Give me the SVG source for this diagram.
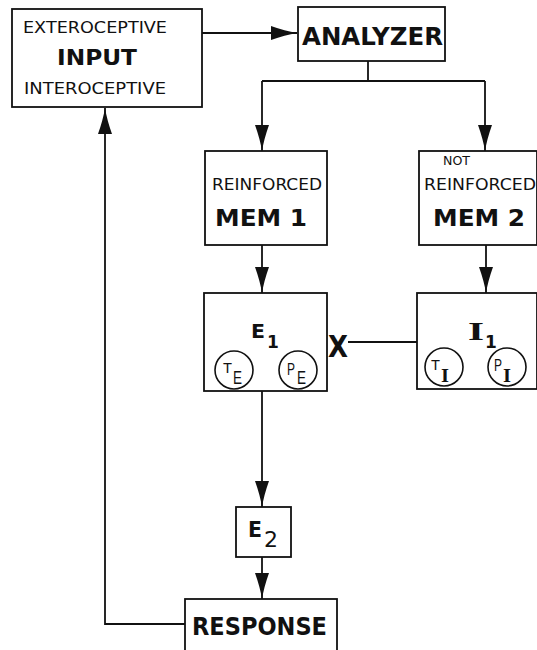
<svg xmlns="http://www.w3.org/2000/svg" width="537" height="650" viewBox="0 0 537 650">
<style>
.box{fill:#fff;stroke:#111;stroke-width:1.8}
.ln{fill:none;stroke:#111;stroke-width:1.8}
.t{font-family:"DejaVu Sans","Liberation Sans",Arial,sans-serif;fill:#111}
.b{font-weight:bold}
.s{font-family:"Liberation Serif","Times New Roman",serif;font-weight:bold;fill:#111}
.c{fill:none;stroke:#111;stroke-width:1.6}
.sm{font-family:"Liberation Sans",Arial,sans-serif;fill:#111}
</style>
<defs>
<marker id="ah" markerUnits="userSpaceOnUse" markerWidth="27" markerHeight="15" refX="26" refY="7" orient="auto" viewBox="0 0 27 15">
<path d="M0,0 Q14,5 26,7 Q14,9 0,14 Z" fill="#111"/>
</marker>
</defs>
<rect width="537" height="650" fill="#fff"/>
<g id="connectors">
<path class="ln" d="M202,33 H297" marker-end="url(#ah)"/>
<path class="ln" d="M368,61 V81"/>
<path class="ln" d="M262,81 H485"/>
<path class="ln" d="M262,81 V151" marker-end="url(#ah)"/>
<path class="ln" d="M485,81 V151" marker-end="url(#ah)"/>
<path class="ln" d="M262,245 V293" marker-end="url(#ah)"/>
<path class="ln" d="M486,245 V293" marker-end="url(#ah)"/>
<path class="ln" d="M348,342 H418"/>
<path class="ln" d="M262,391 V507" marker-end="url(#ah)"/>
<path class="ln" d="M262,557 V599" marker-end="url(#ah)"/>
<path class="ln" d="M185,624 H105 V108" marker-end="url(#ah)"/>
<text class="t b" x="328" y="357" font-size="31" textLength="20" lengthAdjust="spacingAndGlyphs">X</text>
</g>
<g id="input">
<rect class="box" x="12" y="9" width="190" height="98"/>
<text class="t" x="23" y="33" font-size="15" textLength="144" lengthAdjust="spacingAndGlyphs">EXTEROCEPTIVE</text>
<text class="t b" x="57" y="65" font-size="21" textLength="80" lengthAdjust="spacingAndGlyphs">INPUT</text>
<text class="t" x="24" y="94" font-size="15" textLength="142" lengthAdjust="spacingAndGlyphs">INTEROCEPTIVE</text>
</g>
<g id="analyzer">
<rect class="box" x="298" y="7" width="147" height="54"/>
<text class="t b" x="302" y="45" font-size="25" textLength="141" lengthAdjust="spacingAndGlyphs">ANALYZER</text>
</g>
<g id="mem1">
<rect class="box" x="205" y="151" width="122" height="94"/>
<text class="t" x="212" y="190" font-size="15" textLength="110" lengthAdjust="spacingAndGlyphs">REINFORCED</text>
<text class="t b" x="215" y="226" font-size="23" textLength="92" lengthAdjust="spacingAndGlyphs">MEM 1</text>
</g>
<g id="mem2">
<rect class="box" x="419" y="151" width="118" height="94"/>
<text class="t" x="443" y="165" font-size="13" textLength="27" lengthAdjust="spacingAndGlyphs">NOT</text>
<text class="t" x="424" y="190" font-size="15" textLength="112" lengthAdjust="spacingAndGlyphs">REINFORCED</text>
<text class="t b" x="433" y="226" font-size="23" textLength="92" lengthAdjust="spacingAndGlyphs">MEM 2</text>
</g>
<g id="e1">
<rect class="box" x="204" y="293" width="123" height="98"/>
<text class="t b" x="251" y="338" font-size="20" textLength="14" lengthAdjust="spacingAndGlyphs">E</text>
<text class="t b" x="267" y="348" font-size="17">1</text>
<circle class="c" cx="234" cy="370" r="19"/>
<text class="sm" x="223" y="373" font-size="15" textLength="9" lengthAdjust="spacingAndGlyphs">T</text>
<text class="sm" x="233" y="384" font-size="18" textLength="9" lengthAdjust="spacingAndGlyphs">E</text>
<circle class="c" cx="298" cy="370" r="19"/>
<text class="sm" x="287" y="375" font-size="17" textLength="8" lengthAdjust="spacingAndGlyphs">P</text>
<text class="sm" x="297" y="384" font-size="18" textLength="9" lengthAdjust="spacingAndGlyphs">E</text>
</g>
<g id="i1">
<rect class="box" x="417" y="293" width="120" height="96"/>
<text class="s" x="468" y="340" font-size="26" textLength="16" lengthAdjust="spacingAndGlyphs">I</text>
<text class="t b" x="485" y="348" font-size="17">1</text>
<circle class="c" cx="444" cy="367" r="19"/>
<text class="sm" x="431" y="370" font-size="15" textLength="9" lengthAdjust="spacingAndGlyphs">T</text>
<text class="s" x="441" y="382" font-size="18" font-weight="normal" textLength="8" lengthAdjust="spacingAndGlyphs">I</text>
<circle class="c" cx="507" cy="367" r="19"/>
<text class="sm" x="494" y="371" font-size="16" textLength="8" lengthAdjust="spacingAndGlyphs">P</text>
<text class="s" x="503" y="382" font-size="18" font-weight="normal" textLength="8" lengthAdjust="spacingAndGlyphs">I</text>
</g>
<g id="e2">
<rect class="box" x="236" y="507" width="55" height="50"/>
<text class="t b" x="248" y="537" font-size="21" textLength="14" lengthAdjust="spacingAndGlyphs">E</text>
<text class="t" x="264" y="547" font-size="21" textLength="14" lengthAdjust="spacingAndGlyphs">2</text>
</g>
<g id="response">
<rect class="box" x="185" y="599" width="152" height="60"/>
<text class="t b" x="192" y="635" font-size="25" textLength="135" lengthAdjust="spacingAndGlyphs">RESPONSE</text>
</g>
</svg>
